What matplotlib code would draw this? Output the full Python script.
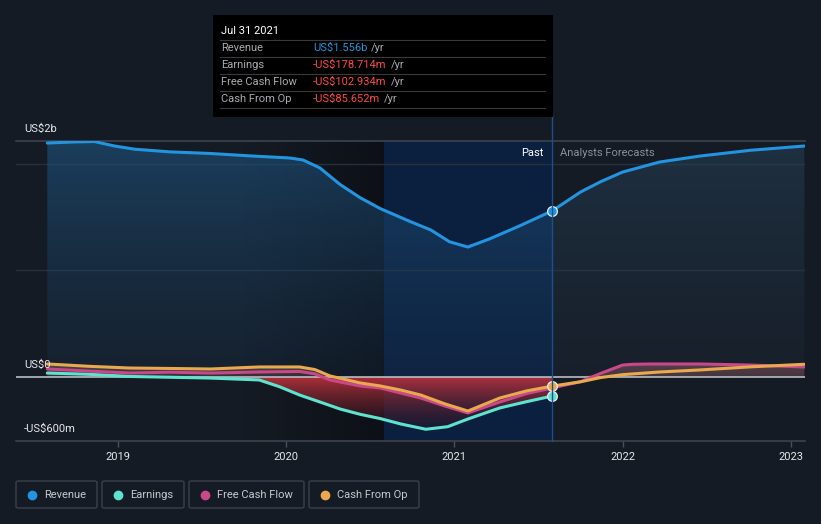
import numpy as np
import matplotlib
matplotlib.use("Agg")
import matplotlib.pyplot as plt
from matplotlib.patches import Rectangle, FancyBboxPatch
from matplotlib.colors import to_rgba

plt.rcParams['font.family'] = ['Roboto', 'DejaVu Sans']

# ---------------- data (decimal years, US$ millions) ----------------
rev_past_x = [2018.58, 2018.74, 2018.86, 2018.98, 2019.10, 2019.31, 2019.55, 2019.79,
              2020.02, 2020.10, 2020.20, 2020.32, 2020.44, 2020.56, 2020.74, 2020.86,
              2020.97, 2021.08, 2021.21, 2021.39, 2021.58]
rev_past_y = [2193, 2203, 2207, 2165, 2135, 2110, 2095, 2072,
              2053, 2034, 1960, 1805, 1680, 1578, 1455, 1378,
              1268, 1218, 1295, 1418, 1556]
rev_fc_x = [2021.58, 2021.75, 2021.87, 2022.00, 2022.22, 2022.46, 2022.76, 2023.08]
rev_fc_y = [1556, 1734, 1831, 1921, 2015, 2071, 2125, 2165]

earn_x = [2018.58, 2018.83, 2019.07, 2019.55, 2019.84, 2019.96, 2020.08, 2020.20,
          2020.32, 2020.44, 2020.56, 2020.68, 2020.83, 2020.96, 2021.08, 2021.27,
          2021.43, 2021.58]
earn_y = [37, 25, 5, -10, -28, -91, -169, -234,
          -300, -350, -390, -440, -490, -466, -394, -290,
          -231, -179]

fcf_x = [2018.58, 2018.83, 2019.07, 2019.31, 2019.55, 2019.84, 2020.08, 2020.17,
         2020.26, 2020.44, 2020.56, 2020.68, 2020.80, 2020.94, 2021.08, 2021.27,
         2021.43, 2021.58, 2021.75, 2021.87, 2022.00, 2022.06, 2022.16, 2022.46,
         2022.76, 2023.08]
fcf_y = [75, 55, 37, 45, 37, 47, 52, 30,
         -28, -84, -103, -150, -197, -270, -337, -234,
         -155, -103, -44, 34, 112, 119, 122, 122,
         112, 94]

cfo_x = [2018.58, 2018.83, 2019.07, 2019.31, 2019.55, 2019.84, 2020.08, 2020.17,
         2020.26, 2020.44, 2020.56, 2020.68, 2020.80, 2020.94, 2021.08, 2021.27,
         2021.43, 2021.58, 2021.75, 2021.87, 2022.00, 2022.22, 2022.46, 2022.76,
         2023.08]
cfo_y = [122, 100, 84, 80, 75, 94, 94, 70,
         10, -56, -84, -122, -169, -250, -319, -197,
         -130, -86, -45, -5, 22, 47, 66, 95,
         119]

year_ticks = [2019, 2020, 2021, 2022, 2023]
year_labels = ["2019", "2020", "2021", "2022", "2023"]
y_labels = ["US$2b", "US$0", "-US$600m"]

tooltip_date = "Jul 31 2021"
tooltip_rows = [("Revenue", "US$1.556b", "#2394df"),
                ("Earnings", "-US$178.714m", "#ff4a4a"),
                ("Free Cash Flow", "-US$102.934m", "#ff4a4a"),
                ("Cash From Op", "-US$85.652m", "#ff4a4a")]
legend_items = [("Revenue", "#2394df"), ("Earnings", "#5ee3cf"),
                ("Free Cash Flow", "#c8488a"), ("Cash From Op", "#e9a94f")]

now_x = 2021.58
band_start = 2020.58

C_REV, C_EARN, C_FCF, C_CFO = "#2394df", "#5ee3cf", "#c8488a", "#e9a94f"
BG = "#151b24"
FS = 8

W, H = 821, 524
fig = plt.figure(figsize=(W / 100, H / 100), dpi=100, facecolor=BG)

def fx(px):
    return px / W

def fy(py):
    return 1 - py / H

ax = fig.add_axes([fx(16), fy(441), fx(805) - fx(16), fy(141) - fy(441)])
ax.set_facecolor(BG)
ax.set_xlim(2018.394, 2023.084)
ax.set_ylim(-600, 2212)
for s in ax.spines.values():
    s.set_visible(False)

def grad_fill(ax, x, y, base, c_top, a_top, c_bot, a_bot, z):
    poly = ax.fill_between(x, y, base, color='none', lw=0, zorder=z)
    x0, x1 = min(x), max(x)
    ymax = max(max(y), base)
    ymin = min(min(y), base)
    n = 256
    t = np.linspace(0, 1, n)[:, None]
    ct, cb = np.array(to_rgba(c_top)), np.array(to_rgba(c_bot))
    ct[3], cb[3] = a_top, a_bot
    img = (ct * (1 - t) + cb * t).reshape(n, 1, 4)
    im = ax.imshow(img, extent=[x0, x1, ymin, ymax], origin='upper',
                   aspect='auto', zorder=z, interpolation='bilinear')
    im.set_clip_path(poly.get_paths()[0], transform=ax.transData)
    return im

# darkening horizontal gradient before highlight band
n = 256
hg = np.zeros((1, n, 4))
hg[..., :3] = to_rgba("#0a0d12")[:3]
hg[0, :, 3] = np.linspace(0, 0.75, n)
ax.imshow(hg, extent=[2019.75, band_start, -600, 2212], aspect='auto',
          zorder=0.5, interpolation='bilinear')

# highlight band (last 12 months)
ax.axvspan(band_start, now_x, color="#0b1f3e", zorder=0.6, lw=0)

# gridlines
for v in [1000, 2000]:
    ax.axhline(v, color="#26303c", lw=1, zorder=1)
ax.axhline(2212, color="#3d434c", lw=1.2, zorder=1, clip_on=False)
ax.axhline(-600, color="#3d434c", lw=1.2, zorder=1, clip_on=False)

# revenue fills
grad_fill(ax, rev_past_x, rev_past_y, 0, "#1f5683", 0.6, "#1a3550", 0.25, 2)
grad_fill(ax, rev_fc_x, rev_fc_y, 0, "#2a4a66", 0.45, "#1d2a38", 0.3, 2)

# negative area fill (past), down to the lowest line
grad_fill(ax, earn_x, np.minimum(earn_y, 0), 0, "#c8343e", 0.88, "#2a1420", 0.35, 2.5)
# small positive areas (past & forecast)
grad_fill(ax, cfo_x[:9], np.maximum(cfo_y[:9], 0), 0, "#8a7060", 0.5, "#5a4a48", 0.4, 2.5)
grad_fill(ax, fcf_x[17:], np.maximum(fcf_y[17:], 0), 0, "#6a4a58", 0.75, "#5a3e48", 0.7, 2.5)

# zero line
ax.axhline(0, color="#b8bcc2", lw=1.2, zorder=3)

# lines
lw = 2.2
ax.plot(earn_x, earn_y, color=C_EARN, lw=lw, zorder=4, solid_capstyle='round')
ax.plot(fcf_x, fcf_y, color=C_FCF, lw=lw, zorder=5, solid_capstyle='round')
ax.plot(cfo_x, cfo_y, color=C_CFO, lw=lw, zorder=6, solid_capstyle='round')
ax.plot(rev_past_x, rev_past_y, color=C_REV, lw=lw, zorder=7, solid_capstyle='round')
ax.plot(rev_fc_x, rev_fc_y, color=C_REV, lw=lw, zorder=7, solid_capstyle='round')

# markers at "now"
for yv, c in [(rev_past_y[-1], C_REV), (earn_y[-1], C_EARN), (cfo_y[17], C_CFO)]:
    ax.plot([now_x], [yv], 'o', ms=7, mfc=c, mec="#e8eef5", mew=0.9, zorder=9)

# now vertical line (extends above axes)
fig.add_artist(plt.Line2D([fx(552), fx(552)], [fy(441), fy(115)], color="#1e4f8a", lw=1, zorder=1))

# ticks
ax.set_xticks(year_ticks)
ax.set_xticklabels(year_labels, color="#e6e8eb", fontsize=FS)
ax.tick_params(axis='x', length=4, color="#4a505a", pad=4, width=1)
ax.set_yticks([])

# y labels
for txt, py in zip(y_labels, [129, 365, 429]):
    fig.text(fx(24), fy(py), txt, color="#e6e8eb", fontsize=FS, va='center', ha='left')

# Past / Analysts Forecasts
fig.text(fx(543), fy(153), "Past", color="#ffffff", fontsize=FS, va='center', ha='right')
fig.text(fx(560), fy(153), "Analysts Forecasts", color="#8a9099", fontsize=FS, va='center', ha='left')

# tooltip
fig.add_artist(Rectangle((fx(213), fy(117)), fx(553) - fx(213), fy(15) - fy(117),
                         transform=fig.transFigure, facecolor="#000000", edgecolor='none', zorder=20))
fig.text(fx(221), fy(31), tooltip_date, color="#ffffff", fontsize=FS, va='center', ha='left', zorder=21)
value_texts = []
for i, (lab, val, col) in enumerate(tooltip_rows):
    yc = 48 + i * 17
    sep = yc - 8
    fig.add_artist(plt.Line2D([fx(220), fx(545)], [fy(sep), fy(sep)], color="#3a3a3a", lw=0.8, zorder=21))
    fig.text(fx(221), fy(yc), lab, color="#a8abb0", fontsize=FS, va='center', ha='left', zorder=21)
    value_texts.append(fig.text(fx(313), fy(yc), val, color=col, fontsize=FS, va='center',
                                ha='left', zorder=21))
fig.add_artist(plt.Line2D([fx(220), fx(545)], [fy(108), fy(108)], color="#3a3a3a", lw=0.8, zorder=21))

fig.canvas.draw()
r = fig.canvas.get_renderer()
for tx in value_texts:
    bb = tx.get_window_extent(r)
    fig.text((bb.x1 + 4) / W, tx.get_position()[1], "/yr", color="#a8abb0",
             fontsize=FS, va='center', ha='left', zorder=21)

# legend boxes
boxes = [(16, 97), (102, 184), (189, 304), (309, 419)]
for (lab, col), (x0, x1) in zip(legend_items, boxes):
    fig.add_artist(FancyBboxPatch((fx(x0), fy(508)), fx(x1) - fx(x0), fy(481) - fy(508),
                                  boxstyle="round,pad=0,rounding_size=0.003",
                                  transform=fig.transFigure, facecolor='none',
                                  edgecolor="#3b414b", lw=1))
    fig.add_artist(plt.Line2D([fx(x0 + 16)], [fy(494.5)], marker='o', ms=6, color=col,
                              mec=col, transform=fig.transFigure))
    fig.text(fx(x0 + 28), fy(494.5), lab, color="#c6c9ce", fontsize=FS, va='center', ha='left')

fig.savefig("out.png", dpi=100, facecolor=BG)
